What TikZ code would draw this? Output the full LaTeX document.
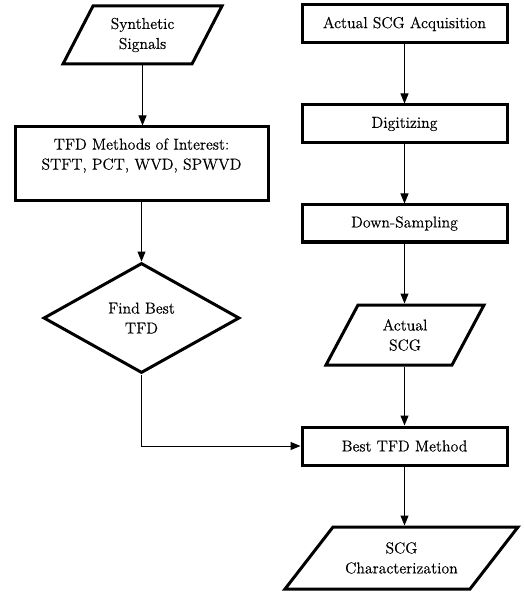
\documentclass[tikz,border=0pt]{standalone}
\usepackage{fontspec}
\newfontfamily\lblfont{lmroman12-regular}[Extension=.otf, FakeBold=0.35]
\usetikzlibrary{arrows.meta,shapes.geometric,calc}
\begin{document}
\begin{tikzpicture}[x=1pt,y=-1pt,
  every node/.style={font=\lblfont\fontsize{15.8}{20}\selectfont, align=center, inner sep=0pt},
  procbox/.style={draw, line width=3pt, minimum width=205pt, minimum height=38pt},
  decbox/.style={draw, diamond, line width=3pt},
  iobox/.style={outer sep=0pt},
  arr/.style={line width=1pt, -{Triangle[length=10pt,width=8pt]}},
  ioline/.style={line width=3pt, line join=miter},
]
\useasboundingbox (0,0) rectangle (524,593);

% left column
\node[iobox, minimum width=129pt, minimum height=58pt] (syn) at (142.5,35) {Synthetic\\Signals};
\node[procbox, minimum width=253pt, minimum height=74pt] (tfd) at (141.5,164) {TFD Methods of Interest:\\STFT, PCT, WVD, SPWVD\\\mbox{}};
\node[decbox, minimum width=196pt, minimum height=110pt] (dia) at (141.5,318) {Find Best\\TFD};

% right column
\node[procbox] (acq) at (404.5,24) {Actual SCG Acquisition};
\node[procbox] (dig) at (404.5,124) {Digitizing};
\node[procbox, minimum height=37pt] (down) at (404.5,223.5) {Down-Sampling};
\node[iobox, minimum width=126pt, minimum height=60pt] (act) at (405,335) {Actual\\SCG};
\node[procbox] (best) at (404.5,446) {Best TFD Method};
\node[iobox, minimum width=185pt, minimum height=62pt] (chr) at (401.5,558) {SCG\\Characterization};

% parallelogram outlines
\draw[ioline] ($(syn.north west)+(15,0)$) -- ($(syn.north east)+(15,0)$) -- ($(syn.south east)+(-15,0)$) -- ($(syn.south west)+(-15,0)$) -- cycle;
\draw[ioline] ($(act.north west)+(16,0)$) -- ($(act.north east)+(16,0)$) -- ($(act.south east)+(-16,0)$) -- ($(act.south west)+(-16,0)$) -- cycle;
\draw[ioline] ($(chr.north west)+(24,0)$) -- ($(chr.north east)+(24,0)$) -- ($(chr.south east)+(-24,0)$) -- ($(chr.south west)+(-24,0)$) -- cycle;

% connectors
\draw[arr, shorten <=1.5pt] (syn.south) -- (syn.south |- tfd.north);
\draw[arr] (tfd.south) -- (tfd.south |- dia.north);
\draw[arr] (dia.south) |- (best.west);
\draw[arr] (acq.south) -- (acq.south |- dig.north);
\draw[arr] (dig.south) -- (dig.south |- down.north);
\draw[arr, shorten >=1.5pt] (down.south) -- (down.south |- act.north);
\draw[arr, shorten <=1.5pt] (act.south -| best.north) -- (best.north);
\draw[arr, shorten >=1.5pt] (best.south) -- (best.south |- chr.north);
\end{tikzpicture}
\end{document}
